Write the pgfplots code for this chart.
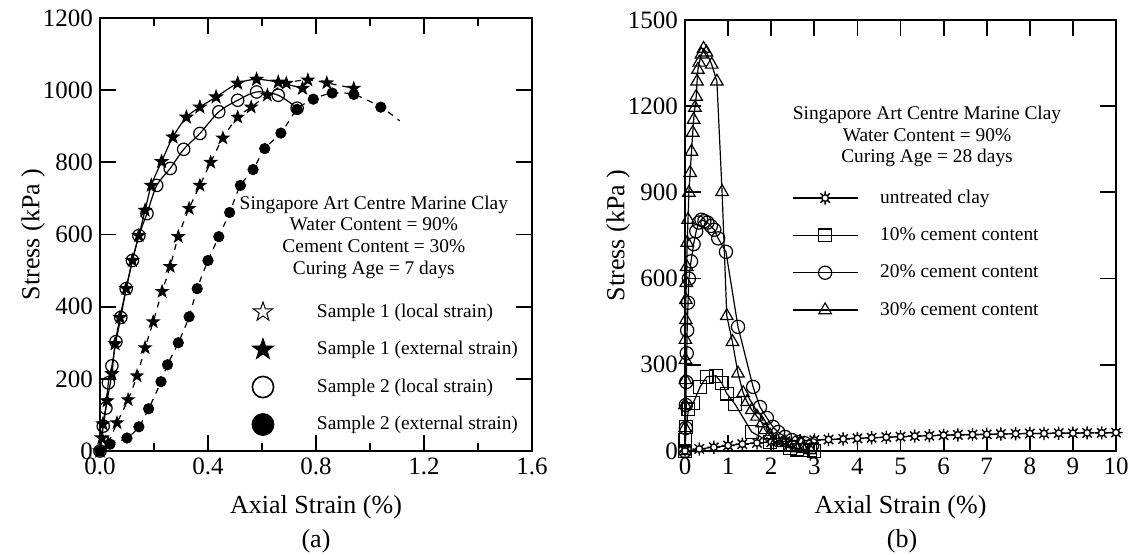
\documentclass[border=0pt]{standalone}
\usepackage{fontspec}
\setmainfont{Liberation Serif}
\usepackage{pgfplots}
\pgfplotsset{compat=1.18}

% five-pointed star, filled with the current fill colour
\pgfdeclareplotmark{pstar}{%
  \pgfpathmoveto{\pgfpointpolar{90}{\pgfplotmarksize}}%
  \pgfpathlineto{\pgfpointpolar{126}{0.4\pgfplotmarksize}}%
  \pgfpathlineto{\pgfpointpolar{162}{\pgfplotmarksize}}%
  \pgfpathlineto{\pgfpointpolar{198}{0.4\pgfplotmarksize}}%
  \pgfpathlineto{\pgfpointpolar{234}{\pgfplotmarksize}}%
  \pgfpathlineto{\pgfpointpolar{270}{0.4\pgfplotmarksize}}%
  \pgfpathlineto{\pgfpointpolar{306}{\pgfplotmarksize}}%
  \pgfpathlineto{\pgfpointpolar{342}{0.4\pgfplotmarksize}}%
  \pgfpathlineto{\pgfpointpolar{18}{\pgfplotmarksize}}%
  \pgfpathlineto{\pgfpointpolar{54}{0.4\pgfplotmarksize}}%
  \pgfpathclose
  \pgfusepathqfillstroke}
% small circle with eight rays
\pgfdeclareplotmark{sun}{%
  \pgfpathcircle{\pgfpointorigin}{0.5\pgfplotmarksize}%
  \pgfusepathqfillstroke
  \pgfpathmoveto{\pgfpointpolar{0}{0.5\pgfplotmarksize}}\pgfpathlineto{\pgfpointpolar{0}{\pgfplotmarksize}}%
  \pgfpathmoveto{\pgfpointpolar{45}{0.5\pgfplotmarksize}}\pgfpathlineto{\pgfpointpolar{45}{\pgfplotmarksize}}%
  \pgfpathmoveto{\pgfpointpolar{90}{0.5\pgfplotmarksize}}\pgfpathlineto{\pgfpointpolar{90}{\pgfplotmarksize}}%
  \pgfpathmoveto{\pgfpointpolar{135}{0.5\pgfplotmarksize}}\pgfpathlineto{\pgfpointpolar{135}{\pgfplotmarksize}}%
  \pgfpathmoveto{\pgfpointpolar{180}{0.5\pgfplotmarksize}}\pgfpathlineto{\pgfpointpolar{180}{\pgfplotmarksize}}%
  \pgfpathmoveto{\pgfpointpolar{225}{0.5\pgfplotmarksize}}\pgfpathlineto{\pgfpointpolar{225}{\pgfplotmarksize}}%
  \pgfpathmoveto{\pgfpointpolar{270}{0.5\pgfplotmarksize}}\pgfpathlineto{\pgfpointpolar{270}{\pgfplotmarksize}}%
  \pgfpathmoveto{\pgfpointpolar{315}{0.5\pgfplotmarksize}}\pgfpathlineto{\pgfpointpolar{315}{\pgfplotmarksize}}%
  \pgfusepathqstroke}

\pgfplotsset{
  panel/.style={
    scale only axis,
    axis line style={line width=0.9pt},
    tick style={line width=0.9pt, black},
    major tick length=8pt, minor tick length=4pt,
    tick label style={font=\fontsize{12.5}{14}\selectfont},
    /pgf/number format/assume math mode=true,
    /pgf/number format/1000 sep={},
    every axis x label/.style={at={(axis description cs:0.5,-0.13)}, anchor=center,
      font=\fontsize{13}{15}\selectfont},
    every axis y label/.style={at={(axis description cs:-0.155,0.5)}, rotate=90,
      anchor=center, font=\fontsize{13}{15}\selectfont},
    legend cell align=left,
  },
}
\tikzset{note/.style={align=center, font=\fontsize{9.7}{10.85}\selectfont}}

\begin{document}
\begin{tikzpicture}
\useasboundingbox (0,0) rectangle (568pt,-277.5pt);

% ---------------- (a) ----------------
\begin{axis}[panel,
  at={(50pt,-225.5pt)}, anchor=south west,
  width=216pt, height=216.5pt,
  xmin=0, xmax=1.6, ymin=0, ymax=1200,
  xtick={0,0.4,...,1.6}, minor xtick={0.2,0.6,1.0,1.4},
  ytick={0,200,...,1200},
  xticklabel style={/pgf/number format/.cd, fixed, fixed zerofill, precision=1},
  xlabel={Axial Strain (\%)}, ylabel={Stress (kPa )},
  legend style={at={(0.3495,0.3487)}, anchor=north west, draw=none, fill=none,
    inner sep=0pt, outer sep=0pt, row sep=6.75pt, column sep=21pt,
    nodes={inner sep=0pt, text height=7.5pt, text depth=2.5pt,
      font=\fontsize{9.7}{11}\selectfont}},
  legend image code/.code={\path[draw=none, fill=none] (-6pt,-6pt) rectangle (6pt,6pt);
    \draw[#1] plot coordinates {(0pt,0pt)};},
]
% sample 1, local strain
\addplot[black, line width=0.6pt, smooth, mark=pstar, mark size=3.3pt,
  mark options={fill=none, line width=0.5pt}, forget plot] coordinates {
  (0,0)(0.007,36)(0.011,75)(0.026,139)(0.044,214)(0.056,297)(0.074,370)
  (0.097,450)(0.12,528)(0.144,597)(0.167,667)(0.19,736)(0.228,802)(0.27,870)
  (0.32,925)(0.37,953)(0.43,981)(0.51,1019)(0.58,1030)(0.66,1022)(0.75,1005)};
% sample 2, local strain
\addplot[black, line width=0.6pt, smooth, mark=o, mark size=3.1pt,
  forget plot] coordinates {
  (0,0)(0.012,69)(0.022,119)(0.031,189)(0.044,236)(0.059,303)(0.077,370)
  (0.097,450)(0.12,528)(0.144,597)(0.174,658)(0.21,736)(0.26,783)(0.31,836)
  (0.37,880)(0.44,940)(0.51,972)(0.58,995)(0.66,986)(0.73,950)};
% sample 1, external strain
\addplot[black, line width=0.6pt, dashed, smooth, mark=pstar, mark size=3pt,
  mark options={solid, fill=black}, forget plot] coordinates {
  (0,0)(0.03,22)(0.063,78)(0.104,142)(0.137,208)(0.167,286)(0.197,358)
  (0.23,442)(0.26,511)(0.29,594)(0.33,672)(0.37,736)(0.41,800)(0.455,867)
  (0.51,925)(0.56,953)(0.62,986)(0.69,1019)(0.77,1028)(0.84,1020)(0.94,1005)};
% sample 2, external strain
\addplot[black, line width=0.6pt, dashed, smooth, forget plot] coordinates {
  (0,0)(0.037,19)(0.10,36)(0.144,67)(0.18,117)(0.226,192)(0.25,239)(0.29,300)
  (0.33,372)(0.36,450)(0.40,528)(0.44,594)(0.48,661)(0.52,736)(0.567,780)
  (0.61,838)(0.67,881)(0.73,947)(0.79,975)(0.86,992)(0.94,988)(1.04,953)
  (1.11,915)};
\addplot[black, only marks, mark=*, mark size=2.6pt, forget plot] coordinates {
  (0,0)(0.037,19)(0.10,36)(0.144,67)(0.18,117)(0.226,192)(0.25,239)(0.29,300)
  (0.33,372)(0.36,450)(0.40,528)(0.44,594)(0.48,661)(0.52,736)(0.567,780)
  (0.61,838)(0.67,881)(0.73,947)(0.79,975)(0.86,992)(0.94,988)(1.04,953)};

\addlegendimage{black, only marks, mark=pstar, mark size=5pt, mark options={fill=white, line width=0.5pt}}
\addlegendentry{Sample 1 (local strain)}
\addlegendimage{black, only marks, mark=pstar, mark size=5.6pt, mark options={fill=black}}
\addlegendentry{Sample 1 (external strain)}
\addlegendimage{black, only marks, mark=o, mark size=5.3pt, mark options={line width=0.8pt}}
\addlegendentry{Sample 2 (local strain)}
\addlegendimage{black, only marks, mark=*, mark size=5.5pt}
\addlegendentry{Sample 2 (external strain)}

\node[note] at (rel axis cs:0.634,0.494) {Singapore Art Centre Marine Clay\\
  Water Content = 90\%\\Cement Content = 30\%\\Curing Age = 7 days};
\end{axis}

% ---------------- (b) ----------------
\begin{axis}[panel,
  at={(342.5pt,-225.5pt)}, anchor=south west,
  width=215.5pt, height=215.5pt,
  xmin=0, xmax=10, ymin=0, ymax=1500,
  xtick={0,1,...,10}, ytick={0,300,...,1500},
  xlabel={Axial Strain (\%)}, ylabel={Stress (kPa )},
  legend style={at={(0.2483,0.617)}, anchor=north west, draw=none, fill=none,
    inner sep=0pt, outer sep=0pt, row sep=5.67pt, column sep=11pt,
    nodes={inner sep=0pt, text height=7.5pt, text depth=2.5pt,
      font=\fontsize{9.7}{11}\selectfont}},
  legend image code/.code={\path[draw=none, fill=none] (0pt,-6.5pt) rectangle (32.5pt,6.5pt);
    \draw[#1, mark repeat=2, mark phase=2]
      plot coordinates {(0pt,0pt)(16.25pt,0pt)(32.5pt,0pt)};},
  every axis plot/.append style={black, line width=0.6pt},
]
% untreated clay
\addplot[mark=sun, mark size=3.3pt, mark options={fill=white, line width=0.7pt}] coordinates {
  (0,0)(0.33,7)(0.67,13)(1,19)(1.33,24)(1.67,28)(2,31)(2.33,34)(2.67,36)
  (3,38)(3.33,40)(3.67,42)(4,44)(4.33,46)(4.67,48)(5,50)(5.33,52)(5.67,53)
  (6,55)(6.33,56)(6.67,57)(7,58)(7.33,59)(7.67,60)(8,61)(8.33,61)(8.67,62)
  (9,62)(9.33,63)(9.67,63)(10,64)};
% 10 % cement
\addplot[mark=square, mark size=3.2pt] coordinates {
  (0,0)(0.01,40)(0.03,84)(0.08,145)(0.19,167)(0.35,223)(0.5,258)(0.72,262)
  (0.85,237)(0.97,200)(1.16,163)(1.55,66)(1.97,31)(2.2,21)(2.44,10)(2.6,5)
  (2.74,3)(2.9,2)(3.0,0)};
% 20 % cement
\addplot[mark=o, mark size=3.3pt] coordinates {
  (0,0)(0.02,80)(0.02,160)(0.03,240)(0.04,340)(0.05,420)(0.07,516)(0.09,600)
  (0.14,660)(0.2,720)(0.26,765)(0.32,795)(0.38,805)(0.45,800)(0.52,795)
  (0.6,783)(0.68,770)(0.77,740)(0.95,693)(1.23,432)(1.58,223)(1.74,153)
  (1.9,115)(2.04,84)(2.16,66)(2.32,49)(2.48,38)(2.62,31)(2.78,27)(2.95,20)};
% 30 % cement
\addplot[mark=triangle, mark size=3.6pt] coordinates {
  (0,0)(0.0,80)(0.0,160)(0.01,247)(0.01,317)(0.01,387)(0.02,456)(0.02,526)
  (0.03,585)(0.04,641)(0.05,725)(0.07,805)(0.09,899)(0.12,968)(0.15,1042)
  (0.18,1108)(0.2,1153)(0.23,1195)(0.26,1233)(0.28,1286)(0.3,1327)(0.33,1352)
  (0.38,1380)(0.43,1400)(0.5,1387)(0.62,1345)(0.74,1286)(0.86,902)(0.97,470)
  (1.1,380)(1.23,270)(1.35,202)(1.44,171)(1.55,143)(1.67,120)(1.79,97)
  (1.86,73)(1.97,55)(2.13,38)(2.27,28)(2.44,14)(2.6,10)(2.74,7)(2.9,3)};

\addlegendimage{line width=0.6pt, mark=sun, mark size=5pt, mark options={fill=white, line width=0.8pt}}
\addlegendentry{untreated clay}
\addlegendimage{line width=0.6pt, mark=square, mark size=5.5pt, mark options={fill=white, line width=0.8pt}}
\addlegendentry{10\% cement content}
\addlegendimage{line width=0.6pt, mark=o, mark size=5.6pt, mark options={fill=white, line width=0.8pt}}
\addlegendentry{20\% cement content}
\addlegendimage{line width=0.6pt, mark=triangle, mark size=6.3pt, mark options={fill=white, line width=0.8pt}}
\addlegendentry{30\% cement content}

\node[note] at (rel axis cs:0.5615,0.730) {Singapore Art Centre Marine Clay\\
  Water Content = 90\%\\Curing Age = 28 days};
\end{axis}

\node[font=\fontsize{13}{15}\selectfont] at (158pt,-270.5pt) {(a)};
\node[font=\fontsize{13}{15}\selectfont] at (451pt,-270.5pt) {(b)};
\end{tikzpicture}
\end{document}
